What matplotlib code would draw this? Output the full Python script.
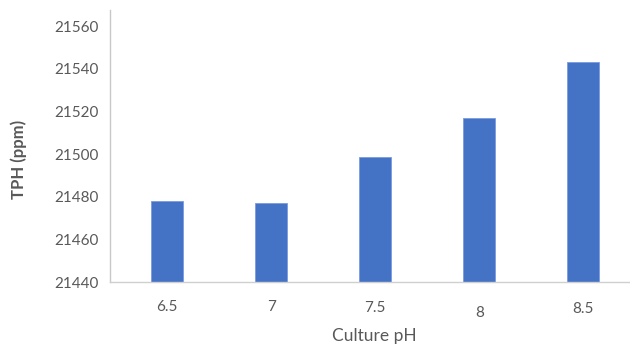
import matplotlib
matplotlib.use("Agg")
import matplotlib.pyplot as plt
import numpy as np

ph_labels = ["6.5", "7", "7.5", "8", "8.5"]
tph = [21478, 21477, 21498.5, 21517, 21543]
# small per-label drop (pixels below the axis) for the category labels
label_drop = [25, 25, 26, 31, 27]

yticks = [21440, 21460, 21480, 21500, 21520, 21540, 21560]

text_color = "#595959"
bar_color = "#4472C4"

plt.rcParams["font.family"] = ["Lato", "DejaVu Sans"]

fig = plt.figure(figsize=(6.3, 3.45), dpi=100)
ax = fig.add_axes([0.1746, 0.1826, 0.8254, 0.7884])

x = np.arange(len(ph_labels))
ax.bar(x, tph, width=0.31, color=bar_color, edgecolor="#7a9be0", linewidth=0.6)

ax.set_xlim(-0.55, 4.45)
ax.set_ylim(21440, 21567.5)
ax.set_yticks(yticks)
ax.set_yticklabels([str(v) for v in yticks])
ax.tick_params(axis="y", length=0, pad=8.5, labelsize=11, labelcolor=text_color)
ax.set_xticks([])

for i, lab in enumerate(ph_labels):
    ax.annotate(lab, xy=(x[i], 0), xycoords=("data", "axes fraction"),
                xytext=(0, -label_drop[i]), textcoords="offset pixels",
                ha="center", va="center", fontsize=11, color=text_color)

for side in ["top", "right"]:
    ax.spines[side].set_visible(False)
ax.spines["left"].set_color("#c8c8c8")
ax.spines["left"].set_linewidth(1.0)
ax.spines["bottom"].set_color("#d0d0d0")
ax.spines["bottom"].set_linewidth(1.0)

ax.set_xlabel("Culture pH", fontsize=12.5, color=text_color)
ax.xaxis.set_label_coords(0.508, -0.17)
ax.set_ylabel("TPH (ppm)", fontsize=12, color=text_color, fontweight="bold")
ax.yaxis.set_label_coords(-0.16, 0.452)

fig.savefig("out.png", dpi=100)
